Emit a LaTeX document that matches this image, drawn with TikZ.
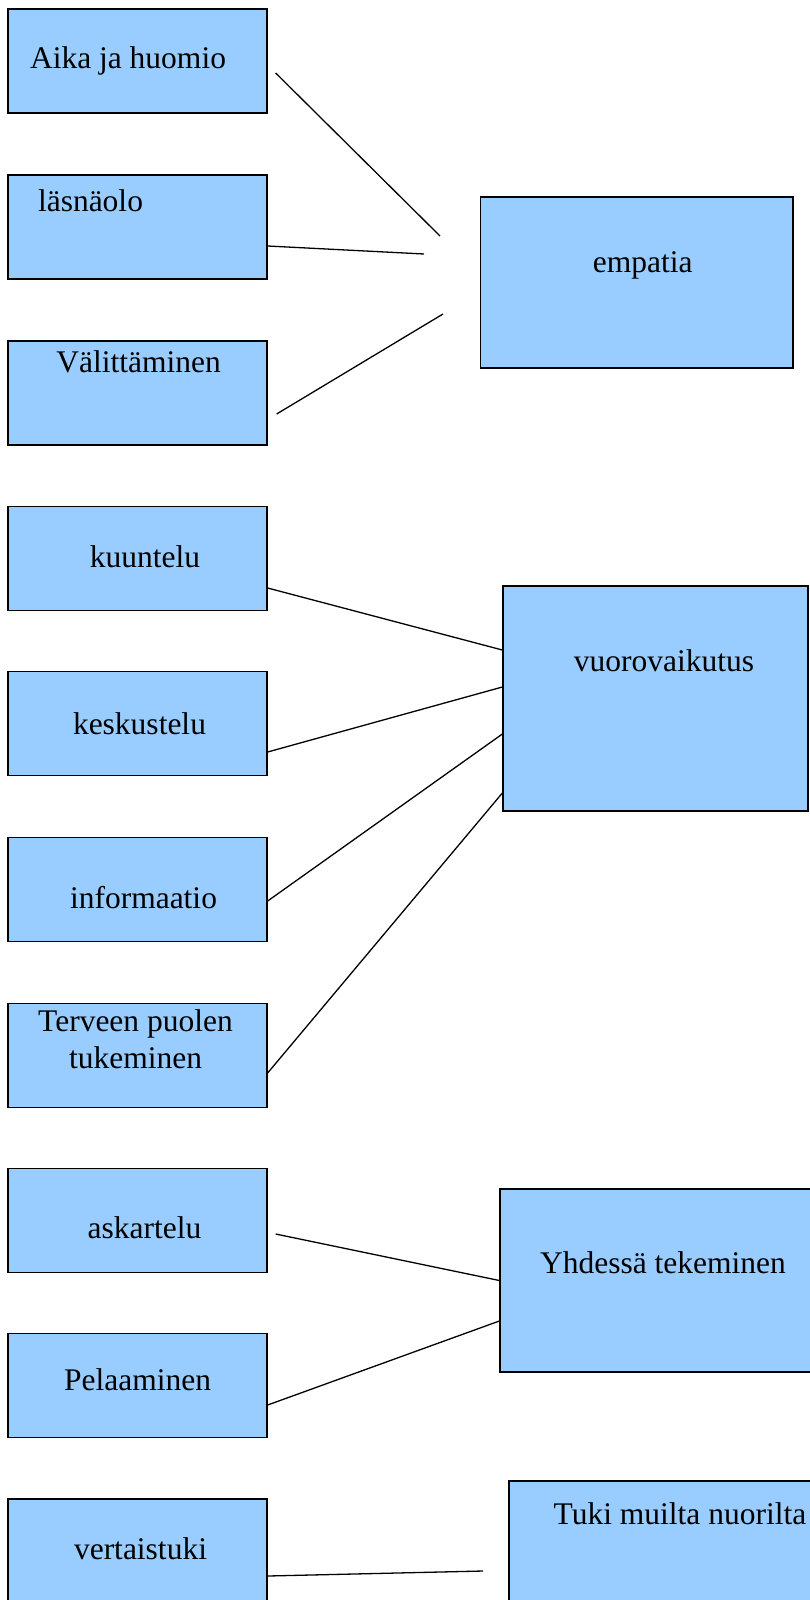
\documentclass[tikz,border=0pt]{standalone}
\usepackage{fontspec}
\setmainfont{Liberation Serif}
\usepackage{tikz}
\definecolor{boxblue}{HTML}{99CCFF}

\begin{document}
\begin{tikzpicture}[x=1pt,y=-1pt]
		\tikzset{box/.style={draw,fill=boxblue,line width=1.3pt,rectangle,inner sep=0pt}};
		\tikzset{small/.style={box,minimum width=259pt,minimum height=104pt}};
		\tikzset{txt/.style={font=\fontsize{31.5}{37}\selectfont,align=center}};
		\tikzset{link/.style={line width=1.3pt}};
		
		\useasboundingbox (0,0) rectangle (810,1600);
		\clip (0,0) rectangle (810,1600);
		
		% vasen sarake
		\node (aika) at (137.5,61) [small,label={[txt,xshift=-9.5pt]center:Aika ja huomio}]{};
		\node (lasnaolo) at (137.5,227) [small,label={[txt,xshift=-47pt,yshift=26pt]center:läsnäolo}]{};
		\node (valittaminen) at (137.5,393) [small,label={[txt,xshift=1pt,yshift=31pt]center:Välittäminen}]{};
		\node (kuuntelu) at (137.5,558.5) [small,label={[txt,xshift=7.5pt,yshift=1.5pt]center:kuuntelu}]{};
		\node (keskustelu) at (137.5,723.5) [small,label={[txt,xshift=2pt]center:keskustelu}]{};
		\node (informaatio) at (137.5,889.5) [small,label={[txt,xshift=6pt,yshift=-8.5pt]center:informaatio}]{};
		\node (terveen) at (137.5,1055.5) [small,label={[txt,xshift=-2pt,yshift=16pt]center:{Terveen puolen\\tukeminen}}]{};
		\node (askartelu) at (137.5,1220.5) [small,label={[txt,xshift=7pt,yshift=-7pt]center:askartelu}]{};
		\node (pelaaminen) at (137.5,1385.5) [small,label={[txt,yshift=5.5pt]center:Pelaaminen}]{};
		\node (vertaistuki) at (137.5,1551) [small,label={[txt,xshift=3pt,yshift=2pt]center:vertaistuki}]{};
		
		% oikea sarake
		\node (empatia) at (636.8,282.5) [box,minimum width=312.5pt,minimum height=171pt,
			label={[txt,xshift=6pt,yshift=17.5pt]center:empatia}]{};
		\node (vuoro) at (655.5,698.5) [box,minimum width=305pt,minimum height=225pt,
			label={[txt,xshift=8.5pt,yshift=37.5pt]center:vuorovaikutus}]{};
		\node (yhdessa) at (663,1280.5) [box,minimum width=326pt,minimum height=183pt,
			label={[txt,yshift=17.5pt]center:Yhdessä tekeminen}]{};
		\node (tuki) at (680,1571) [box,minimum width=342pt,minimum height=180pt,
			label={[txt,yshift=57pt]center:Tuki muilta nuorilta}]{};
		
		\coordinate (e1) at (440,236);
		\coordinate (e2) at (424,254);
		\coordinate (e3) at (443,314);
		\coordinate (e10) at (483,1571);
		
		\draw [link] ([shift={(8,12)}]aika.east) -- (e1);
		\draw [link] ([shift={(0,19)}]lasnaolo.east) -- (e2);
		\draw [link] ([shift={(9,21)}]valittaminen.east) -- (e3);
		\draw [link] ([shift={(0,29.5)}]kuuntelu.east) -- ([shift={(0,-48.5)}]vuoro.west);
		\draw [link] ([shift={(0,28.5)}]keskustelu.east) -- ([shift={(0,-11.5)}]vuoro.west);
		\draw [link] ([shift={(0,11.5)}]informaatio.east) -- ([shift={(0,35.5)}]vuoro.west);
		\draw [link] ([shift={(0,17.5)}]terveen.east) -- ([shift={(0,94.5)}]vuoro.west);
		\draw [link] ([shift={(8,13.5)}]askartelu.east) -- (yhdessa.west);
		\draw [link] ([shift={(0,19.5)}]pelaaminen.east) -- ([shift={(0,40.5)}]yhdessa.west);
		\draw [link] ([shift={(0,25)}]vertaistuki.east) -- (e10);
		\end{tikzpicture}
\end{document}
